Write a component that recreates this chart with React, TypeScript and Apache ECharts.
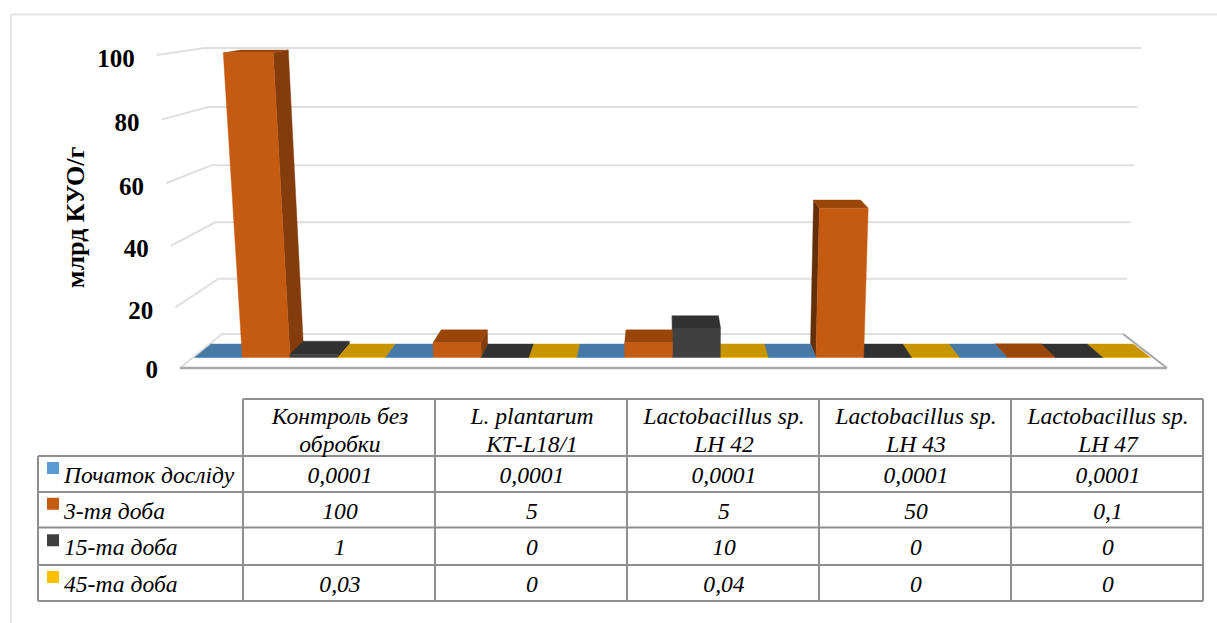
import React, { useEffect, useRef } from "react";
import * as echarts from "echarts";

// Dataset
const categories = ["Контроль без\nобробки", "L. plantarum\nКТ-L18/1", "Lactobacillus sp.\nLH 42", "Lactobacillus sp.\nLH 43", "Lactobacillus sp.\nLH 47"];
const seriesNames = ["Початок досліду", "3-тя доба", "15-та доба", "45-та доба"];
const start = [0.0001, 0.0001, 0.0001, 0.0001, 0.0001];
const day3 = [100, 5, 5, 50, 0.1];
const day15 = [1, 0, 10, 0, 0];
const day45 = [0.03, 0, 0.04, 0, 0];
const yTicks = [0, 20, 40, 60, 80, 100];

const seriesValues = [start, day3, day15, day45];

// Shades of each series: front, top, right-hand side, left-hand side
const shades = [
  { front: "#5b9bd5", top: "#4679a6", right: "#33597a", left: "#2c4e6c" },
  { front: "#c55a11", top: "#9a4609", right: "#843c0c", left: "#64300a" },
  { front: "#404040", top: "#313131", right: "#262626", left: "#202020" },
  { front: "#ffc000", top: "#c69500", right: "#997300", left: "#806000" },
];

// Plot frame (front plane of the pseudo-3D box)
const GRID_LEFT = 181.5;
const GRID_RIGHT = 1164;
const GRID_TOP = 55;
const GRID_BOTTOM = 368;
const WIDTH = 1217;
const HEIGHT = 623;

// Perspective parameters of the box
const VANISH_X = 663;
const BAR_NEAR = 0.31;
const BAR_FAR = 0.706;
const FONT_SERIF = '"Liberation Serif", serif';

// Projects a point of the front plane (pixel position from the axes) to a given depth
function project(gx: number, gy: number, depth: number): [number, number] {
  const u = (GRID_BOTTOM - gy) / (GRID_BOTTOM - GRID_TOP);
  const scale = (1 - 0.087 * depth) * (1 + (0.048 - 0.009 * depth) * u);
  const x = VANISH_X + (gx - VANISH_X) * scale;
  const rise = (313 - 27 * depth) * (u - 0.04 * u * (1 - u));
  return [x, GRID_BOTTOM - 34 * depth - rise];
}

function face(points: [number, number][], fill: string, z2: number) {
  return {
    type: "polygon",
    z2,
    shape: { points },
    style: { fill, stroke: fill, lineWidth: 0.4 },
  };
}

function renderBar(seriesIndex: number) {
  return (_params: any, api: any) => {
    const cat = api.value(0);
    const val = api.value(1);
    const base = api.coord([cat, 0]);
    const top = api.coord([cat, val]);
    const cell = api.size([1, 0])[0] / seriesValues.length;
    const x0 = base[0] - (cell * seriesValues.length) / 2 + cell * seriesIndex;
    const x1 = x0 + cell;
    const c = shades[seriesIndex];

    const fbl = project(x0, base[1], BAR_NEAR);
    const fbr = project(x1, base[1], BAR_NEAR);
    const ftl = project(x0, top[1], BAR_NEAR);
    const ftr = project(x1, top[1], BAR_NEAR);
    const bbl = project(x0, base[1], BAR_FAR);
    const bbr = project(x1, base[1], BAR_FAR);
    const btl = project(x0, top[1], BAR_FAR);
    const btr = project(x1, top[1], BAR_FAR);

    // Bars nearer the vanishing line sit in front of their outer neighbours
    const z = 2000 - Math.abs((x0 + x1) / 2 - VANISH_X);
    const children: any[] = [];
    if (x1 < VANISH_X) children.push(face([fbr, bbr, btr, ftr], c.right, z));
    if (x0 > VANISH_X) children.push(face([fbl, bbl, btl, ftl], c.left, z));
    children.push(face([ftl, ftr, btr, btl], c.top, z + 0.1));
    children.push(face([fbl, fbr, ftr, ftl], c.front, z + 0.2));
    return { type: "group", children };
  };
}

// Walls, floor outline and tick labels, all positioned from the value axis
function renderTick(_params: any, api: any) {
  const v = api.value(1);
  const y = api.coord([0, v])[1];
  const band = api.size([1, 0])[0];
  const left = api.coord([0, 0])[0] - band / 2 - 1.5;
  const right = api.coord([categories.length - 1, 0])[0] + band / 2 + 3;
  const fl = project(left, y, 0);
  const bl = project(left, y, 1);
  const br = project(right, y, 1);
  const fr = project(right, y, 0);
  const grid = { stroke: "#dfdfdf", lineWidth: 2, fill: "none" };
  const children: any[] = [
    { type: "polyline", z2: 1, shape: { points: [fl, bl, br] }, style: grid },
    {
      type: "text",
      z2: 5,
      style: {
        text: String(v),
        x: fl[0] - 22,
        y: fl[1] + (v === 0 ? 1 : 3),
        align: "right",
        verticalAlign: "middle",
        font: `bold 25px ${FONT_SERIF}`,
        fill: "#000",
      },
    },
  ];
  if (v === 0) {
    children.push(
      { type: "line", z2: 2, shape: { x1: fl[0], y1: fl[1], x2: fr[0], y2: fr[1] }, style: { stroke: "#a8a8a8", lineWidth: 2.5 } },
      { type: "line", z2: 2, shape: { x1: br[0], y1: br[1], x2: fr[0], y2: fr[1] }, style: { stroke: "#a8a8a8", lineWidth: 2 } },
    );
  }
  return { type: "group", children };
}

// Data table underneath the plot
const tableColumns = [243, 435, 627, 819, 1011, 1203];
const tableRows = [399, 456, 492, 527.5, 565, 601];
const TABLE_LEFT = 38;
const TABLE_LINE = { stroke: "#8f8f8f", lineWidth: 2 };
const cellFont = `italic 23.6px ${FONT_SERIF}`;

function tableGraphics() {
  const items: any[] = [];
  const hLine = (x1: number, x2: number, y: number) =>
    items.push({ type: "line", shape: { x1, y1: y, x2, y2: y }, style: TABLE_LINE });
  const vLine = (x: number, y1: number, y2: number) =>
    items.push({ type: "line", shape: { x1: x, y1, x2: x, y2 }, style: TABLE_LINE });

  hLine(tableColumns[0], tableColumns[5], tableRows[0]);
  tableRows.slice(1).forEach((y) => hLine(TABLE_LEFT, tableColumns[5], y));
  vLine(TABLE_LEFT, tableRows[1], tableRows[5]);
  tableColumns.forEach((x) => vLine(x, tableRows[0], tableRows[5]));

  categories.forEach((name, i) => {
    items.push({
      type: "text",
      style: {
        text: name,
        x: (tableColumns[i] + tableColumns[i + 1]) / 2 + 1,
        y: (tableRows[0] + tableRows[1]) / 2 + 2,
        align: "center",
        verticalAlign: "middle",
        font: cellFont,
        lineHeight: 28,
        fill: "#000",
      },
    });
  });

  seriesNames.forEach((name, s) => {
    const cy = (tableRows[s + 1] + tableRows[s + 2]) / 2;
    items.push({ type: "rect", shape: { x: 47, y: cy - 12, width: 12, height: 12 }, style: { fill: shades[s].front } });
    items.push({
      type: "text",
      style: { text: name, x: 64, y: cy + 1, align: "left", verticalAlign: "middle", font: cellFont, fill: "#000" },
    });
    seriesValues[s].forEach((v, i) => {
      items.push({
        type: "text",
        style: {
          text: String(v).replace(".", ","),
          x: (tableColumns[i] + tableColumns[i + 1]) / 2 + 1,
          y: cy + 1,
          align: "center",
          verticalAlign: "middle",
          font: cellFont,
          fill: "#000",
        },
      });
    });
  });
  return items;
}

export default function App() {
  const ref = useRef<HTMLDivElement>(null);

  useEffect(() => {
    const chart = echarts.init(ref.current!, undefined, { renderer: "svg" });
    chart.setOption({
      animation: false,
      backgroundColor: "#fff",
      grid: {
        left: GRID_LEFT,
        top: GRID_TOP,
        width: GRID_RIGHT - GRID_LEFT,
        height: GRID_BOTTOM - GRID_TOP,
      },
      xAxis: {
        type: "category",
        data: categories,
        show: false,
      },
      yAxis: {
        type: "value",
        min: 0,
        max: 100,
        interval: 20,
        name: "млрд КУО/г",
        nameLocation: "middle",
        nameGap: 93,
        nameRotate: 90,
        nameTextStyle: {
          fontFamily: FONT_SERIF,
          fontWeight: "bold",
          fontSize: 26,
          color: "#000",
          padding: [0, 12, 0, 0],
        },
        axisLine: { show: false },
        axisTick: { show: false },
        axisLabel: { show: false },
        splitLine: { show: false },
      },
      graphic: [
        { type: "line", shape: { x1: 11, y1: 14.5, x2: WIDTH, y2: 14.5 }, style: { stroke: "#e4e4e4", lineWidth: 2 } },
        { type: "line", shape: { x1: 11, y1: 14.5, x2: 11, y2: HEIGHT }, style: { stroke: "#e4e4e4", lineWidth: 2 } },
        ...tableGraphics(),
      ],
      series: [
        {
          type: "custom",
          name: "Шкала",
          coordinateSystem: "cartesian2d",
          clip: false,
          z: 1,
          silent: true,
          renderItem: renderTick,
          data: yTicks.map((v) => [0, v]),
          encode: { x: 0, y: 1 },
        },
        ...seriesNames.map((name, s) => ({
          type: "custom",
          name,
          coordinateSystem: "cartesian2d",
          clip: false,
          z: 2,
          renderItem: renderBar(s),
          data: seriesValues[s].map((v, i) => [i, v]),
          encode: { x: 0, y: 1 },
        })),
      ],
    });
    return () => chart.dispose();
  }, []);

  return <div ref={ref} style={{ position: "absolute", left: 0, top: 0, width: WIDTH, height: HEIGHT }} />;
}
